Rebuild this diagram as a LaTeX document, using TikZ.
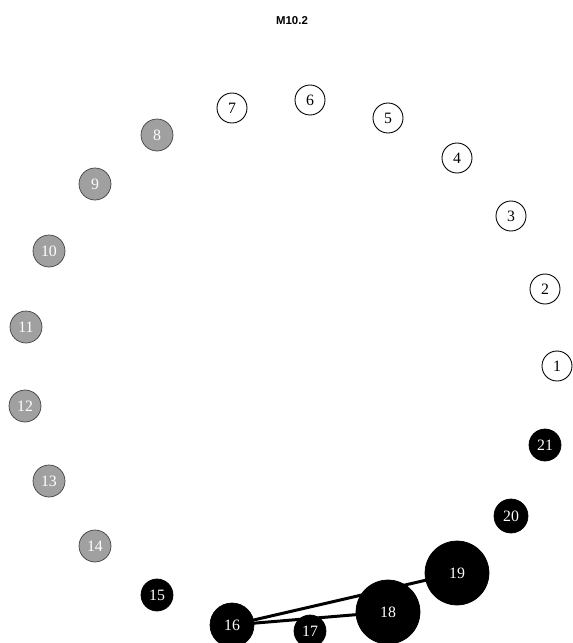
\documentclass[tikz,border=0pt]{standalone}
\usepackage{fontspec}
\setmainfont{Liberation Serif}
\newfontfamily\titlefont{Liberation Sans}
\usepackage{tikz}
\usetikzlibrary{positioning, backgrounds}
\definecolor{vgray}{RGB}{160,160,160}
\tikzset{
    vert/.style={circle, inner sep=0pt, font=\fontsize{9}{9}\selectfont},
    whitev/.style={vert, draw=black, fill=white, text=black, line width=0.5pt},
    grayv/.style={vert, draw=black!75, fill=vgray, text=white, line width=0.4pt},
    blackv/.style={vert, draw=black, fill=black, text=white},
    tie/.style={line width=1.7pt, black}
}

\begin{document}
\begin{tikzpicture}[x=0.02cm, y=-0.02cm]
            \useasboundingbox (0,0) rectangle (572,643);
            \node (title) at (292,21) {\titlefont\bfseries\fontsize{6.5}{6.5}\selectfont M10.2};
            \foreach \n/\x/\y in {1/557/366, 2/545/289, 3/511/216, 4/457/158, 5/388/118, 6/310/100, 7/232/108}{
                    \node[whitev, minimum size=0.6cm] (v\n) at (\x,\y) {\n};
                }
            \foreach \n/\x/\y in {8/157/135, 9/95/184, 10/49/251, 11/26/327, 12/25/406, 13/49/481, 14/95/546}{
                    \node[grayv, minimum size=0.64cm] (v\n) at (\x,\y) {\n};
                }
            \foreach \n/\x/\y/\r in {15/157/595/16, 16/232/625/22, 17/310/631/16, 18/388/612/32, 19/457/573/32, 20/511/516/17, 21/545/445/16}{
                    \node[blackv, minimum size=\r*0.04cm] (v\n) at (\x,\y) {\n};
                }
            % edges below the vertices
            \begin{pgfonlayer}{background}
                \draw[tie] (v16.center)--(v19.center);
                \draw[tie] (v16.center)--(v18.center);
            \end{pgfonlayer}
        \end{tikzpicture}
\end{document}
